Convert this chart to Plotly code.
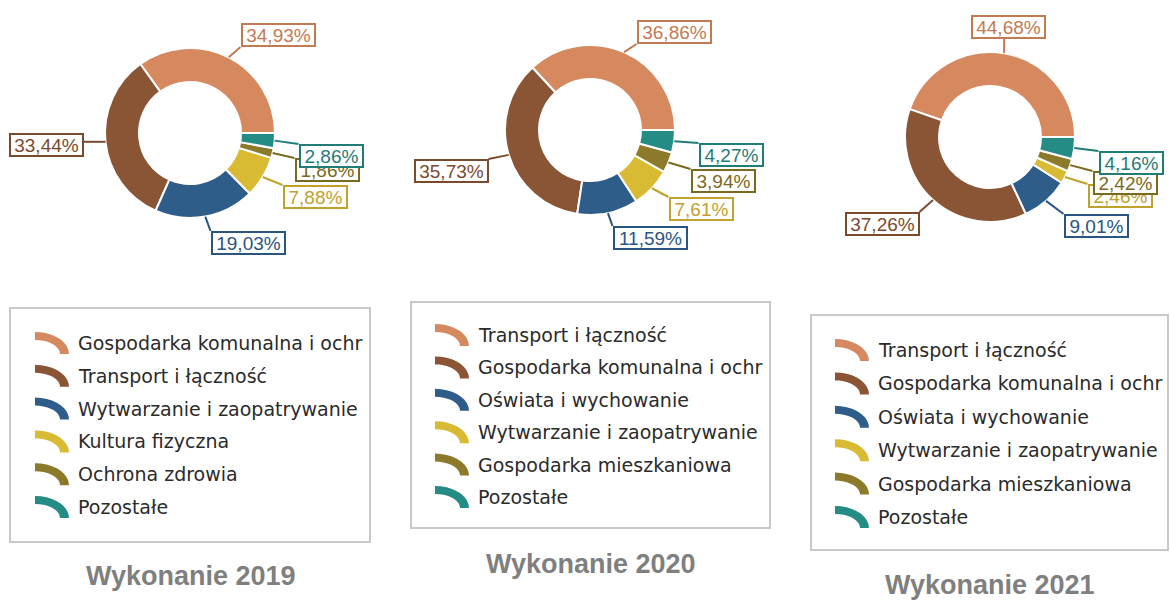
import math
import plotly.graph_objects as go

W, H = 1170, 601

# --- data -------------------------------------------------------------------
years = ["2019", "2020", "2021"]

labels_2019 = ["Gospodarka komunalna i ochr", "Transport i łączność",
               "Wytwarzanie i zaopatrywanie", "Kultura fizyczna",
               "Ochrona zdrowia", "Pozostałe"]
values_2019 = [34.93, 33.44, 19.03, 7.88, 1.86, 2.86]

labels_2020 = ["Transport i łączność", "Gospodarka komunalna i ochr",
               "Oświata i wychowanie", "Wytwarzanie i zaopatrywanie",
               "Gospodarka mieszkaniowa", "Pozostałe"]
values_2020 = [36.86, 35.73, 11.59, 7.61, 3.94, 4.27]

labels_2021 = ["Transport i łączność", "Gospodarka komunalna i ochr",
               "Oświata i wychowanie", "Wytwarzanie i zaopatrywanie",
               "Gospodarka mieszkaniowa", "Pozostałe"]
values_2021 = [44.68, 37.26, 9.01, 2.46, 2.42, 4.16]

titles = ["Wykonanie 2019", "Wykonanie 2020", "Wykonanie 2021"]

# --- styling ----------------------------------------------------------------
slice_colors = ["#D6885E", "#8A5535", "#2F5D8A", "#D8BA33", "#8C7A2A", "#258B85"]
label_colors = ["#C27A52", "#7A4A2E", "#2A5482", "#BFA12E", "#7A6A20", "#1F7C77"]

# pie centres (px) and outer radius
centers = [(190, 133), (590, 130), (990, 137)]
R = 85
HOLE = 0.6

# label box centres (px) for each slice of each pie
label_pos = [
    [(278, 35), (46, 145), (248, 243), (315, 197), (327, 170), (331, 156)],
    [(674, 32), (451, 171), (650, 238), (701, 209), (723, 181), (731, 155)],
    [(1008, 27), (882, 224), (1096, 226), (1120, 196), (1125, 183), (1131, 163)],
]

# legend boxes: (x0, y0, x1, y1), first row y, row step, icon x, text x
legend_cfg = [
    ((10, 308, 370, 542), 343, 32.8, 35, 76),
    ((411, 302, 770, 528), 335, 32.4, 435, 476),
    ((811, 315, 1168, 550), 350, 33.4, 835, 876),
]
title_pos = [(191, 576), (591, 564), (990, 585)]


def px(x):
    return x / W


def py(y):
    return 1 - y / H


def fmt(v):
    return f"{v:.2f}".replace(".", ",") + "%"


fig = go.Figure()
shapes = []
annotations = []

all_labels = [labels_2019, labels_2020, labels_2021]
all_values = [values_2019, values_2020, values_2021]

for k in range(3):
    cx, cy = centers[k]
    vals = all_values[k]
    total = sum(vals)
    # counterclockwise pies: first slice begins at 3 o'clock
    first_span = vals[0] / total * 360.0
    fig.add_trace(go.Pie(
        labels=all_labels[k], values=vals, sort=False,
        direction="counterclockwise", rotation=90 - first_span, hole=HOLE,
        marker=dict(colors=slice_colors, line=dict(color="white", width=2)),
        textinfo="none", hoverinfo="label+percent", showlegend=False,
        domain=dict(x=[px(cx - R), px(cx + R)], y=[py(cy + R), py(cy - R)]),
        name=years[k],
    ))

    # value labels with leader lines
    start = 0.0
    for i, v in enumerate(vals):
        span = v / total * 360.0
        mid = math.radians(start + span / 2)
        start += span
        sx = cx + R * math.cos(mid)
        sy = cy - R * math.sin(mid)
        text = fmt(v)
        bw = 71 if len(text) > 5 else 61
        bh = 20
        lx, ly = label_pos[k][i]
        x0, x1 = lx - bw / 2 - 2, lx + bw / 2 + 2
        y0, y1 = ly - bh / 2 - 2, ly + bh / 2 + 2
        ex = min(max(sx, x0), x1)
        ey = min(max(sy, y0), y1)
        shapes.append(dict(type="line", xref="paper", yref="paper",
                           x0=px(sx), y0=py(sy), x1=px(ex), y1=py(ey),
                           line=dict(color=label_colors[i], width=2), layer="above"))
        annotations.append(dict(
            x=px(lx), y=py(ly), xref="paper", yref="paper",
            xanchor="center", yanchor="middle", showarrow=False,
            text=text, width=bw, height=bh, align="center", valign="middle",
            font=dict(family="Liberation Sans, Arial, sans-serif", size=19,
                      color=label_colors[i]),
            bgcolor="white", bordercolor=label_colors[i], borderwidth=2, borderpad=0,
        ))

    # legend box
    (bx0, by0, bx1, by1), row0, step, ix, tx = legend_cfg[k]
    shapes.append(dict(type="rect", xref="paper", yref="paper",
                       x0=px(bx0), y0=py(by1), x1=px(bx1), y1=py(by0),
                       line=dict(color="#C8C8C8", width=2), fillcolor="rgba(0,0,0,0)",
                       layer="above"))
    for i, name in enumerate(all_labels[k]):
        yc = row0 + i * step
        # quarter-ring icon
        ocx, ocy = ix, yc + 11
        outer = [(ocx + 34 * math.sin(math.radians(a)), ocy - 22 * math.cos(math.radians(a)))
                 for a in range(0, 91, 10)]
        inner = [(ocx + 25 * math.sin(math.radians(a)), ocy - 14 * math.cos(math.radians(a)))
                 for a in range(90, -1, -10)]
        pts = outer + inner
        path = "M " + " L ".join(f"{px(x):.5f},{py(y):.5f}" for x, y in pts) + " Z"
        shapes.append(dict(type="path", xref="paper", yref="paper", path=path,
                           fillcolor=slice_colors[i], line=dict(width=0), layer="above"))
        annotations.append(dict(
            x=px(tx), y=py(yc), xref="paper", yref="paper",
            xanchor="left", yanchor="middle", showarrow=False, text=name,
            font=dict(family="DejaVu Sans, Verdana, sans-serif", size=19, color="#2B2B2B"),
        ))

    # panel title
    tx_, ty_ = title_pos[k]
    annotations.append(dict(
        x=px(tx_), y=py(ty_), xref="paper", yref="paper",
        xanchor="center", yanchor="middle", showarrow=False, text=f"<b>{titles[k]}</b>",
        font=dict(family="Liberation Sans, Arial, sans-serif", size=27, color="#7F7F7F"),
    ))

fig.update_layout(
    width=W, height=H, margin=dict(l=0, r=0, t=0, b=0),
    paper_bgcolor="white", plot_bgcolor="white",
    shapes=shapes, annotations=annotations, showlegend=False,
)

fig.write_html("out.html")
